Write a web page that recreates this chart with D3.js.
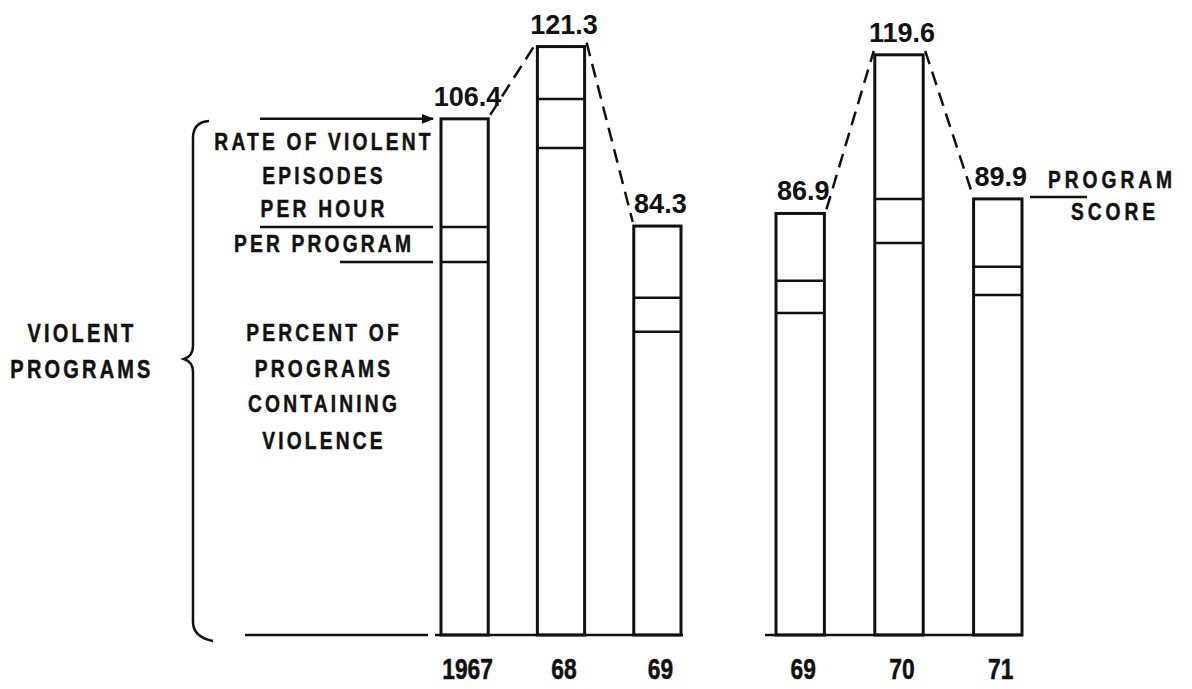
<!DOCTYPE html>
<html>
<head>
<meta charset="utf-8">
<script src="https://cdn.jsdelivr.net/npm/d3@7"></script>
<style>
  body { margin: 0; background: #fff; }
  .lbl { font-family: "Liberation Sans", Arial, sans-serif; font-weight: bold; fill: #111; stroke: #111; stroke-width: 0.5px; }
  .val { font-family: "Liberation Sans", Arial, sans-serif; font-weight: bold; fill: #111; }
</style>
</head>
<body>
<div id="chart"></div>
<script>
// two groups of network seasons
const yearsA = ["1967", "68", "69"];
const scoresA = [106.4, 121.3, 84.3];
const percentA = [76.9, 100.4, 62.5];     // bottom segment
const perProgramA = [7.2, 10.1, 7.0];     // middle segment

const yearsB = ["69", "70", "71"];
const scoresB = [86.9, 119.6, 89.9];
const percentB = [66.4, 80.8, 70.1];
const perProgramB = [6.6, 9.1, 5.8];

const width = 1192, height = 689;
const base = 635;
const squeeze = 0.8; // condensed look for the lettering

const svg = d3.select("#chart").append("svg")
  .attr("width", width)
  .attr("height", height);

const y = d3.scaleLinear().domain([0, 130.9]).range([base, 0]);

const xA = d3.scaleBand().domain(yearsA).range([441, 681]).paddingInner(0.51).paddingOuter(0);
const xB = d3.scaleBand().domain(yearsB).range([776, 1022]).paddingInner(0.51).paddingOuter(0);

const groups = [
  { x: xA, years: yearsA, scores: scoresA, percent: percentA, perProgram: perProgramA, base0: 435, base1: 683 },
  { x: xB, years: yearsB, scores: scoresB, percent: percentB, perProgram: perProgramB, base0: 765, base1: 1023 }
];

const ink = "#111";

function label(x, yy, str, size, spacing, sq = squeeze) {
  svg.append("text")
    .attr("class", "lbl")
    .attr("transform", `translate(${x},${yy}) scale(${sq},1)`)
    .attr("text-anchor", "middle")
    .style("font-size", size + "px")
    .style("letter-spacing", spacing + "px")
    .text(str);
}

groups.forEach((g, gi) => {
  const rows = g.years.map((yr, i) => ({
    key: yr, score: g.scores[i], pct: g.percent[i], pp: g.perProgram[i]
  }));

  // baseline of the group
  svg.append("line")
    .attr("x1", g.base0).attr("x2", g.base1)
    .attr("y1", base).attr("y2", base)
    .attr("stroke", ink).attr("stroke-width", 2.5);

  // bars (outlined)
  svg.selectAll(".bar" + gi)
    .data(rows)
    .join("rect")
    .attr("class", "bar" + gi)
    .attr("x", d => g.x(d.key))
    .attr("y", d => y(d.score))
    .attr("width", g.x.bandwidth())
    .attr("height", d => base - y(d.score))
    .attr("fill", "none")
    .attr("stroke", ink)
    .attr("stroke-width", 3);

  // segment divisions
  const divs = rows.flatMap(d => [
    { key: d.key, v: d.pct },
    { key: d.key, v: d.pct + d.pp }
  ]);
  svg.selectAll(".div" + gi)
    .data(divs)
    .join("line")
    .attr("class", "div" + gi)
    .attr("x1", d => g.x(d.key))
    .attr("x2", d => g.x(d.key) + g.x.bandwidth())
    .attr("y1", d => y(d.v))
    .attr("y2", d => y(d.v))
    .attr("stroke", ink)
    .attr("stroke-width", 2.5);

  // dashed connectors between tops
  svg.selectAll(".link" + gi)
    .data(d3.pairs(rows))
    .join("line")
    .attr("class", "link" + gi)
    .attr("x1", d => g.x(d[0].key) + g.x.bandwidth() + 2)
    .attr("y1", d => y(d[0].score) - 4)
    .attr("x2", d => g.x(d[1].key) - 1)
    .attr("y2", d => y(d[1].score) - 4)
    .attr("stroke", ink)
    .attr("stroke-width", 2.5)
    .attr("stroke-dasharray", "14,8");

  // value labels
  svg.selectAll(".val" + gi)
    .data(rows)
    .join("text")
    .attr("class", "val")
    .attr("x", d => g.x(d.key) + g.x.bandwidth() / 2 + 3)
    .attr("y", d => y(d.score) - 13)
    .attr("text-anchor", "middle")
    .style("font-size", "27px")
    .text(d => d.score.toFixed(1));

  // year labels
  rows.forEach(d => label(g.x(d.key) + g.x.bandwidth() / 2 + 3, 679, d.key, 30, 0, 0.76));
});

// legend annotation on the left, tied to the 1967 bar levels
const first = { score: scoresA[0], pct: percentA[0], pp: perProgramA[0] };
const barLeft = xA(yearsA[0]) - 8;

svg.append("defs").append("marker")
  .attr("id", "tip")
  .attr("viewBox", "0 0 10 10")
  .attr("refX", 9).attr("refY", 5)
  .attr("markerWidth", 5).attr("markerHeight", 5)
  .attr("orient", "auto")
  .append("path")
  .attr("d", "M0,1 L10,5 L0,9 Z")
  .attr("fill", ink);

svg.append("line")
  .attr("x1", 260).attr("x2", barLeft)
  .attr("y1", y(first.score)).attr("y2", y(first.score))
  .attr("stroke", ink).attr("stroke-width", 2.5)
  .attr("marker-end", "url(#tip)");
svg.append("line")
  .attr("x1", 260).attr("x2", barLeft)
  .attr("y1", y(first.pct + first.pp)).attr("y2", y(first.pct + first.pp))
  .attr("stroke", ink).attr("stroke-width", 2.5);
svg.append("line")
  .attr("x1", 340).attr("x2", barLeft)
  .attr("y1", y(first.pct)).attr("y2", y(first.pct))
  .attr("stroke", ink).attr("stroke-width", 2.5);
svg.append("line")
  .attr("x1", 245).attr("x2", 428)
  .attr("y1", base).attr("y2", base)
  .attr("stroke", ink).attr("stroke-width", 2.5);

// curly brace
svg.append("path")
  .attr("d", "M209,121 Q193,122 193,138 L193,346 Q193,356 184,359 Q193,362 193,372 L193,622 Q193,637 213,641")
  .attr("fill", "none")
  .attr("stroke", ink)
  .attr("stroke-width", 2.5);

const leftText = [
  { t: "RATE OF VIOLENT", y: 150 },
  { t: "EPISODES", y: 184 },
  { t: "PER HOUR", y: 217 },
  { t: "PER  PROGRAM", y: 252 },
  { t: "PERCENT OF", y: 341 },
  { t: "PROGRAMS", y: 377 },
  { t: "CONTAINING", y: 412 },
  { t: "VIOLENCE", y: 449 }
];
leftText.forEach(d => label(324, d.y, d.t, 24, 4));

label(82, 342, "VIOLENT", 25, 4);
label(82, 378, "PROGRAMS", 25, 4);

// program score label on the right
const lastTop = y(scoresB[2]) - 2;
svg.append("line")
  .attr("x1", xB(yearsB[2]) + xB.bandwidth() + 8).attr("x2", 1087)
  .attr("y1", lastTop).attr("y2", lastTop)
  .attr("stroke", ink).attr("stroke-width", 2.5);
label(1112, 188, "PROGRAM", 24, 5);
label(1115, 220, "SCORE", 24, 5);
</script>
</body>
</html>
